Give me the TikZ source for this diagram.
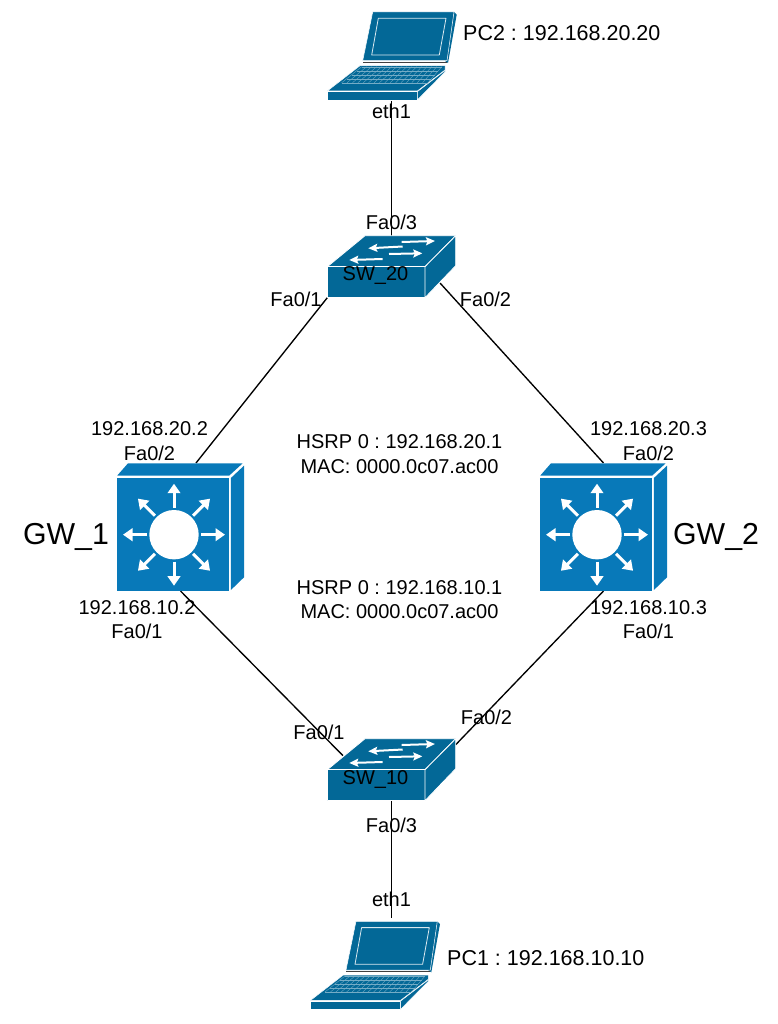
\documentclass[tikz,border=0pt]{standalone}
\usepackage{fontspec}
\setmainfont{Liberation Sans}
\usetikzlibrary{calc}
\usetikzlibrary{arrows.meta}
\definecolor{lapblue}{HTML}{036897}
\definecolor{swblue}{HTML}{036897}
\definecolor{gwblue}{HTML}{0879B9}
\frenchspacing
\tikzset{
  x=1pt,y=-1pt,
  devbox/.style={inner sep=0pt,outer sep=0pt,minimum width=#1},
  wire/.style={draw=black,line width=1.35pt},
  lbl/.style={inner sep=0pt,align=center,font=\fontsize{20}{24.5}\selectfont},
  lblbig/.style={inner sep=0pt,anchor=west,font=\fontsize{21.5}{25}\selectfont},
  lblgw/.style={inner sep=0pt,font=\fontsize{30.3}{34}\selectfont},
  edge/.style={draw=white,line width=0.8pt,line join=round},
  swarrow/.style={draw=white,line width=2pt,-{Stealth[length=9pt,width=8pt,inset=1.5pt]}},
  gwarrow/.style={draw=white,line width=3pt,-{Stealth[length=9.5pt,width=12.5pt,inset=0pt]}},
  laptop/.pic={
    \fill[lapblue] (454,12)--(456.7,14.7)--(448,63)--(445,61)--cycle;
    \filldraw[fill=lapblue,draw=white,line width=0.5pt,line join=round] (372.7,12)--(454,12)--(447,60.7)--(362.7,60.7)--cycle;
    \draw[white!85!lapblue,line width=0.8pt,line join=round] (378.3,18.3)--(446,18.3)--(439.3,55)--(371.7,55)--cycle;
    \draw[black!75,line width=1.1pt] (363,62.3)--(447,62.3);
    \filldraw[fill=lapblue,draw=white,line width=0.5pt,line join=round] (360,65.7)--(445,65.7)--(445,70)--(417.3,91)--(327.3,91)--cycle;
    \foreach \t in {0,0.25,0.5,0.75,1}{
      \draw[white!45!lapblue,line width=0.35pt]
        ($(361.7,66.7)!\t!(341.7,82.7)$)--($(441.7,66.7)!\t!(428,82.7)$);
    }
    \foreach \t in {0,0.0625,...,1.001}{
      \draw[white!45!lapblue,line width=0.35pt]
        ($(361.7,66.7)!\t!(441.7,66.7)$)--($(341.7,82.7)!\t!(428,82.7)$);
    }
    \filldraw[fill=lapblue,draw=white,line width=0.5pt,line join=round] (327,91.7)--(417.3,91.7)--(417.3,100)--(327,100)--cycle;
    \filldraw[fill=lapblue,draw=white,line width=0.5pt,line join=round] (417.3,91.7)--(445,70.5)--(445,72)--(417.3,100)--cycle;
  },
  switchicon/.pic={
    \filldraw[fill=swblue,edge] (365,235.7)--(455.7,235.7)--(425,266.7)--(327.3,266.7)--cycle;
    \filldraw[fill=swblue,edge] (327.3,266.7)--(425,266.7)--(425,297.7)--(327.3,297.7)--cycle;
    \filldraw[fill=swblue,edge] (425,266.7)--(455.7,235.7)--(455.7,265.7)--(425,297.7)--cycle;
    \draw[swarrow] (401.7,242)--(435,241);
    \draw[swarrow] (402.7,246.5)--(368.3,248.3);
    \draw[swarrow] (389,254)--(422.3,253.3);
    \draw[swarrow] (382.7,259)--(349.3,260);
  },
  gwicon/.pic={
    \fill[gwblue] (128,463.3)--(242.7,463.3)--(229.3,475.5)--(117.3,475.5)--cycle;
    \fill[gwblue] (117.3,478.3)--(229.3,478.3)--(229.3,590.7)--(117.3,590.7)--cycle;
    \fill[gwblue] (230.9,478)--(244,465.7)--(244,577.3)--(230.9,590)--cycle;
    \fill[white] (174,534.7) circle[radius=24.7];
    \foreach \a in {0,45,...,315}{
      \draw[gwarrow] ($(174,534.7)+(\a:27)$)--($(174,534.7)+(\a:51)$);
    }
  },
}
\begin{document}
\begin{tikzpicture}
\useasboundingbox (0,0) rectangle (777,1024);
% device boxes
\node[devbox=129pt,minimum height=88pt] (pc2) at (391.5,56) {};
\node[devbox=129pt,minimum height=88pt] (pc1) at (375,965.3) {};
\node[devbox=128.4pt,minimum height=62pt] (sw20) at (391.5,266.7) {};
\node[devbox=128.4pt,minimum height=62pt] (sw10) at (391.5,769.7) {};
\node[devbox=127pt,minimum height=128pt] (gw1) at (180.5,527) {};
\node[devbox=127pt,minimum height=128pt] (gw2) at (603.5,527) {};
% connectors
\draw[wire] (pc2.south) -- (sw20.north);
\draw[wire] (sw20.south west) -- ($(gw1.north)+(15.5,0)$);
\draw[wire] ($(sw20.south east)+(-15.7,-14.7)$) -- (gw2.north);
\draw[wire] (gw1.south) -- ($(sw10.north west)+(15.7,17)$);
\draw[wire] (gw2.south) -- ($(sw10.north east)+(0,6)$);
\draw[wire] (sw10.south) -- ($(pc1.north)+(16.5,-3)$);
% icons
\pic at (0,0) {laptop};
\pic at (-16.7,909.3) {laptop};
\pic at (0,0) {switchicon};
\pic at (0,503) {switchicon};
\pic at (0,0) {gwicon};
\pic at (423,0) {gwicon};
% labels
\node[lblbig] (tpc2) at (463,33) {PC2 : 192.168.20.20};
\node[lblbig] (tpc1) at (447,958.5) {PC1 : 192.168.10.10};
\node[lbl] (te2) at (391.5,111) {eth1};
\node[lbl] (te1) at (391.5,899) {eth1};
\node[lbl] (t1) at (391.5,222) {Fa0/3};
\node[lbl] (n20) at (375.5,276) {SW\_20};
\node[lbl] (t2) at (296,299) {Fa0/1};
\node[lbl] (t3) at (485.5,299) {Fa0/2};
\node[lbl] (t4) at (149.5,441) {192.168.20.2\\Fa0/2};
\node[lbl] (t5) at (648.5,441) {192.168.20.3\\Fa0/2};
\node[lbl] (t6) at (399.5,454) {HSRP 0 : 192.168.20.1\\MAC: 0000.0c07.ac00};
\node[lbl] (t7) at (399.5,599.5) {HSRP 0 : 192.168.10.1\\MAC: 0000.0c07.ac00};
\node[lblgw] (g1) at (66,537) {GW\_1};
\node[lblgw] (g2) at (716,537) {GW\_2};
\node[lbl] (t8) at (137,619.5) {192.168.10.2\\Fa0/1};
\node[lbl] (t9) at (648.5,619.5) {192.168.10.3\\Fa0/1};
\node[lbl] (t10) at (319,732) {Fa0/1};
\node[lbl] (t11) at (486.5,717) {Fa0/2};
\node[lbl] (n10) at (375.5,779) {SW\_10};
\node[lbl] (t12) at (391.5,825) {Fa0/3};
\end{tikzpicture}
\end{document}
